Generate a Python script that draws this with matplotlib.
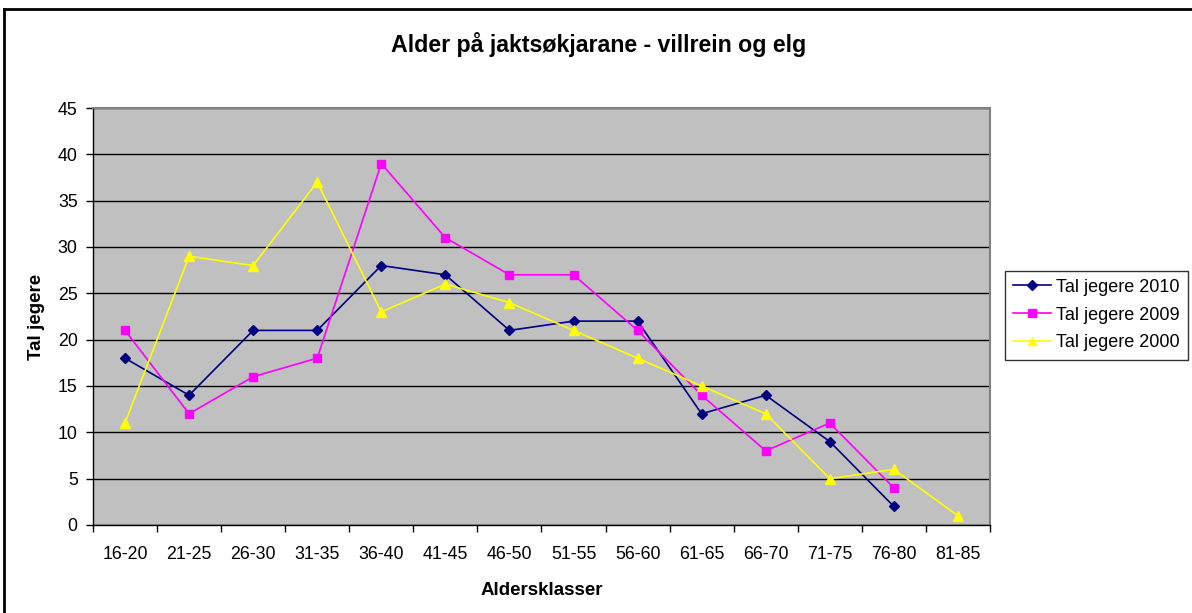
import matplotlib

matplotlib.use("Agg")
import matplotlib.pyplot as plt
from matplotlib.lines import Line2D

CLASSES = ["16-20", "21-25", "26-30", "31-35", "36-40", "41-45", "46-50",
           "51-55", "56-60", "61-65", "66-70", "71-75", "76-80", "81-85"]
JEGERE_2010 = [18, 14, 21, 21, 28, 27, 21, 22, 22, 12, 14, 9, 2]
JEGERE_2009 = [21, 12, 16, 18, 39, 31, 27, 27, 21, 14, 8, 11, 4]
JEGERE_2000 = [11, 29, 28, 37, 23, 26, 24, 21, 18, 15, 12, 5, 6, 1]
SERIES = [
    ("Tal jegere 2010", JEGERE_2010, "#000080", "D", 5.5),
    ("Tal jegere 2009", JEGERE_2009, "#FF00FF", "s", 6),
    ("Tal jegere 2000", JEGERE_2000, "#FFFF00", "^", 7),
]


def main() -> None:
    plt.rcParams.update({"font.family": "Liberation Sans", "font.size": 12.8})

    fig = plt.figure(figsize=(11.92, 6.13), dpi=100)
    ax = fig.add_axes([0.078, 0.1436, 0.7525, 0.6802])
    ax.set_facecolor("#C0C0C0")

    for label, values, color, marker, ms in SERIES:
        ax.plot(range(len(values)), values, color=color, marker=marker,
                markersize=ms, linewidth=1.2, label=label, zorder=3)

    ax.set_xlim(-0.5, len(CLASSES) - 0.5)
    ax.set_ylim(0, 45)
    ax.set_yticks(range(0, 46, 5))
    ax.set_xticks(range(len(CLASSES)), CLASSES)
    ax.tick_params(axis="x", which="major", length=0, pad=15)
    ax.set_xticks([i - 0.5 for i in range(len(CLASSES) + 1)], minor=True)
    ax.tick_params(axis="x", which="minor", length=5, width=1, direction="out")
    ax.tick_params(axis="y", length=5, width=1, direction="out", pad=6)
    ax.grid(axis="y", color="black", linewidth=1, zorder=1)
    ax.set_axisbelow(True)

    for side in ("top", "right"):
        ax.spines[side].set_color("#808080")
        ax.spines[side].set_linewidth(1.5)
    for side in ("left", "bottom"):
        ax.spines[side].set_color("black")
        ax.spines[side].set_linewidth(1)

    ax.set_xlabel("Aldersklasser", fontsize=13.5, fontweight="bold", labelpad=14)
    ax.set_ylabel("Tal jegere", fontsize=13.5, fontweight="bold", labelpad=9)

    fig.text(0.502, 0.928, "Alder på jaktsøkjarane - villrein og elg", ha="center",
             va="center", fontsize=16.7, fontweight="bold")

    handles = [Line2D([0], [0], color=c, marker=m, markersize=ms * 0.85, linewidth=1.2)
               for _, _, c, m, ms in SERIES]
    leg = fig.legend(handles, [s[0] for s in SERIES], loc="center left",
                     bbox_to_anchor=(0.843, 0.486), fontsize=13, frameon=True,
                     fancybox=False, edgecolor="black", handlelength=2.1,
                     borderpad=0.45, labelspacing=0.6, handletextpad=0.3,
                     borderaxespad=0)
    leg.get_frame().set_linewidth(1)

    # outer chart border (only top and left visible in the reference crop)
    fig.add_artist(Line2D([0.0035, 0.0035], [0, 0.986], color="black", linewidth=2,
                          transform=fig.transFigure))
    fig.add_artist(Line2D([0.0035, 1], [0.986, 0.986], color="black", linewidth=2,
                          transform=fig.transFigure))

    fig.savefig("out.png", dpi=100)
    plt.close(fig)


if __name__ == "__main__":
    main()
